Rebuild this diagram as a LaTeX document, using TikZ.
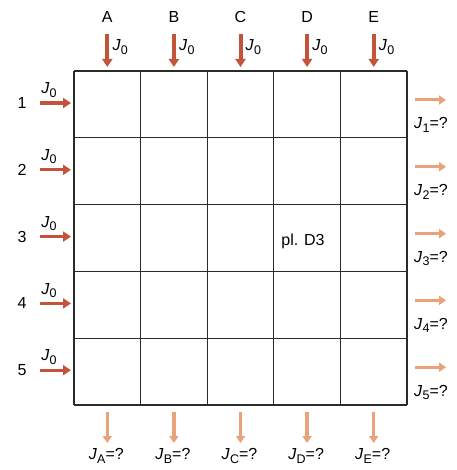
\documentclass[tikz,border=0pt]{standalone}
\usepackage{fontspec}
\setmainfont{Liberation Sans}
\usetikzlibrary{arrows.meta}
\definecolor{inred}{HTML}{C4533C}
\definecolor{outor}{HTML}{E9A27A}
\definecolor{gridc}{HTML}{2A2A2A}
\newcommand{\jsub}[1]{\textit{J}\kern0.3pt\raisebox{-0.4ex}{\fontsize{12.5}{12.5}\selectfont #1}}
\begin{document}
\begin{tikzpicture}[x=1pt,y=-1pt,
  inarrow/.style={draw=inred,line width=4pt,-{Triangle[length=8pt,width=10pt]}},
  outarrow/.style={draw=outor,line width=3.4pt,-{Triangle[length=7pt,width=9pt]}},
  lbl/.style={font=\fontsize{16}{18}\selectfont,inner sep=0pt},
  gridline/.style={draw=gridc,line width=1.3pt}]
\useasboundingbox (0,0) rectangle (456,470);
\fill[white] (0,0) rectangle (456,470);
% grid
\foreach \i in {0,...,5} {
  \draw[gridline] (74+66.6*\i,71) -- (74+66.6*\i,405);
  \draw[gridline] (74,71+66.8*\i) -- (407,71+66.8*\i);
}
\node[lbl] (pl) at (303,241) {pl. D3};
% columns
\foreach \c [count=\k from 0] in {A,B,C,D,E} {
  \pgfmathsetmacro{\xx}{107.3+66.6*\k}
  \node[lbl] (col\c) at (\xx,17) {\c};
  \coordinate (tin\c) at (\xx,34);
  \coordinate (tend\c) at (\xx,67);
  \draw[inarrow] (tin\c) -- (tend\c);
  \node[lbl,anchor=west] (tj\c) at (\xx+5,47) {\jsub{0}};
  \coordinate (bs\c) at (\xx,412);
  \coordinate (be\c) at (\xx,443);
  \draw[outarrow] (bs\c) -- (be\c);
  \node[lbl] (bj\c) at (\xx-1,456) {\jsub{\c}=?};
}
% rows
\foreach \r [count=\k from 0] in {1,...,5} {
  \pgfmathsetmacro{\yy}{103+66.8*\k}
  \node[lbl] (row\r) at (22,\yy) {\r};
  \coordinate (ls\r) at (40,\yy);
  \coordinate (le\r) at (71,\yy);
  \draw[inarrow,line width=3.2pt] (ls\r) -- (le\r);
  \node[lbl] (lj\r) at (49,\yy-13) {\jsub{0}};
  \coordinate (rs\r) at (415,\yy-3);
  \coordinate (re\r) at (446,\yy-3);
  \draw[outarrow,line width=3pt] (rs\r) -- (re\r);
  \node[lbl,anchor=west] (rj\r) at (414,\yy+22) {\jsub{\r}=?};
}
\end{tikzpicture}
\end{document}
